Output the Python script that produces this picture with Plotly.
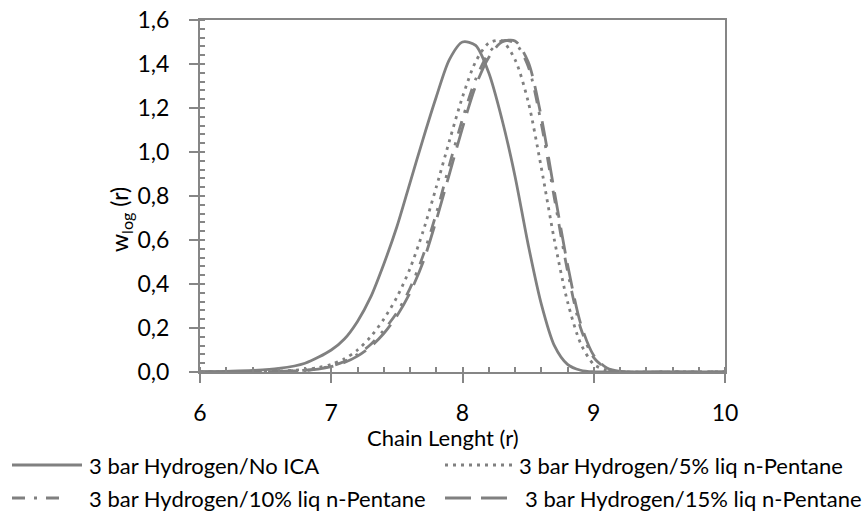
import plotly.graph_objects as go

# ---- data ----
x_noica = [6.0, 6.2, 6.4, 6.6, 6.8, 7.0, 7.1, 7.2, 7.3, 7.4, 7.5, 7.6, 7.7, 7.8, 7.9,
           8.0, 8.1, 8.2, 8.3, 8.4, 8.5, 8.6, 8.7, 8.8, 8.9, 9.0, 9.2, 9.6, 10.0]
y_noica = [0.0, 0.003, 0.007, 0.016, 0.04, 0.10, 0.15, 0.23, 0.34, 0.49, 0.66, 0.86, 1.06, 1.25, 1.42,
           1.50, 1.485, 1.36, 1.15, 0.89, 0.58, 0.31, 0.12, 0.035, 0.008, 0.001, 0.0, 0.0, 0.0]

x_5 = [6.0, 6.4, 6.6, 6.8, 6.9, 7.0, 7.1, 7.2, 7.3, 7.4, 7.5, 7.6, 7.7, 7.8, 7.9, 8.0,
       8.1, 8.2, 8.3, 8.4, 8.5, 8.6, 8.7, 8.8, 8.9, 9.0, 9.1, 9.2, 9.6, 10.0]
y_5 = [0.0, 0.001, 0.004, 0.012, 0.02, 0.035, 0.06, 0.10, 0.16, 0.24, 0.34, 0.47, 0.64, 0.84, 1.05, 1.25,
       1.41, 1.495, 1.505, 1.42, 1.23, 0.93, 0.60, 0.32, 0.13, 0.035, 0.008, 0.001, 0.0, 0.0]

x_10 = [6.0, 6.4, 6.6, 6.8, 6.9, 7.0, 7.1, 7.2, 7.3, 7.4, 7.5, 7.6, 7.7, 7.8, 7.9, 8.0,
        8.1, 8.2, 8.3, 8.4, 8.5, 8.6, 8.7, 8.8, 8.9, 9.0, 9.1, 9.2, 9.6, 10.0]
y_10 = [0.0, 0.001, 0.003, 0.008, 0.015, 0.027, 0.048, 0.08, 0.125, 0.19, 0.27, 0.38, 0.53, 0.72, 0.94, 1.15,
        1.33, 1.45, 1.505, 1.495, 1.39, 1.13, 0.79, 0.46, 0.20, 0.065, 0.015, 0.002, 0.0, 0.0]

x_15 = [6.0, 6.4, 6.6, 6.8, 6.9, 7.0, 7.1, 7.2, 7.3, 7.4, 7.5, 7.6, 7.7, 7.8, 7.9, 8.0,
        8.1, 8.2, 8.3, 8.4, 8.5, 8.6, 8.7, 8.8, 8.9, 9.0, 9.1, 9.2, 9.6, 10.0]
y_15 = [0.0, 0.001, 0.003, 0.007, 0.013, 0.024, 0.043, 0.072, 0.115, 0.175, 0.255, 0.36, 0.50, 0.69, 0.90, 1.11,
        1.30, 1.43, 1.50, 1.505, 1.41, 1.16, 0.82, 0.49, 0.22, 0.075, 0.018, 0.003, 0.0, 0.0]

series_names = [
    "3 bar Hydrogen/No ICA",
    "3 bar Hydrogen/5% liq n-Pentane",
    "3 bar Hydrogen/10% liq n-Pentane",
    "3 bar Hydrogen/15% liq n-Pentane",
]

x_ticks = [6, 7, 8, 9, 10]
y_ticks = [0.0, 0.2, 0.4, 0.6, 0.8, 1.0, 1.2, 1.4, 1.6]

x_title = "Chain Lenght (r)"
y_title = "w<sub>log</sub> (r)"

# ---- styles ----
GRAY = "#808080"
AXIS = "#868686"
FONT = "Lato"
FS = 22
LW = 2.8
dashes = ["solid", "3px,5px", "13px,9px,3px,9px", "26px,10px"]
series = [(x_noica, y_noica), (x_5, y_5), (x_10, y_10), (x_15, y_15)]

# the page body margin is removed (post_script), so the figure fills the window
W, H = 862, 511
PL, PR, PT, PB = 200, 725, 20, 372          # plot box in window pixels
ML, MR, MT, MB = PL, W - PR, PT, H - PB


def px_x(px):   # window px -> paper x
    return (px - PL) / (PR - PL)


def px_y(py):   # window px -> paper y
    return (PB - py) / (PB - PT)


fig = go.Figure()
for (xs, ys), name, dash in zip(series, series_names, dashes):
    fig.add_trace(go.Scatter(
        x=xs, y=ys, mode="lines", name=name, showlegend=False,
        line=dict(color=GRAY, width=LW, dash=dash, shape="spline", smoothing=0.8),
    ))

# legend layout (key sample start/end, text start, row centre) in window pixels
legend_slots = [(12, 82, 87, 465), (445, 513, 517, 465), (12, 68, 87, 498), (445, 513, 523, 498)]
shapes = []
annotations = []
for (s0, s1, tx, ty), name, dash in zip(legend_slots, series_names, dashes):
    shapes.append(dict(type="line", xref="paper", yref="paper",
                       x0=px_x(s0), x1=px_x(s1), y0=px_y(ty), y1=px_y(ty),
                       line=dict(color=GRAY, width=LW, dash=dash)))
    annotations.append(dict(text=name, xref="paper", yref="paper", x=px_x(tx), y=px_y(ty),
                            xanchor="left", yanchor="middle", showarrow=False,
                            font=dict(size=FS, family=FONT, color="black")))

annotations.append(dict(text=x_title, xref="paper", yref="paper", x=px_x(443), y=px_y(437),
                        xanchor="center", yanchor="middle", showarrow=False,
                        font=dict(size=FS, family=FONT, color="black")))
annotations.append(dict(text=y_title, xref="paper", yref="paper", x=px_x(121), y=px_y(220),
                        xanchor="center", yanchor="middle", showarrow=False, textangle=-90,
                        font=dict(size=FS + 1, family=FONT, color="black")))

fig.update_layout(
    width=W, height=H,
    margin=dict(l=ML, r=MR, t=MT, b=MB, autoexpand=False),
    plot_bgcolor="white", paper_bgcolor="white",
    separators=", ",
    font=dict(family=FONT, color="black"),
    showlegend=False,
    xaxis=dict(
        range=[6, 10], tickvals=x_ticks, ticktext=[str(v) for v in x_ticks],
        ticks="outside", ticklen=9, tickwidth=2, tickcolor=AXIS,
        showline=True, linecolor=AXIS, linewidth=2, mirror=True,
        showgrid=False, zeroline=False, ticklabeloverflow="allow",
        minor=dict(dtick=0.2, ticks="inside", ticklen=5, tickwidth=1.5, tickcolor=AXIS, showgrid=False),
        tickfont=dict(size=23, family=FONT, color="black"),
        ticklabelstandoff=10,
    ),
    yaxis=dict(
        range=[0, 1.6], tickvals=y_ticks, tickformat=".1f",
        ticks="outside", ticklen=9, tickwidth=2, tickcolor=AXIS,
        showline=True, linecolor=AXIS, linewidth=2, mirror=True,
        showgrid=False, zeroline=False, ticklabeloverflow="allow",
        minor=dict(dtick=0.04, ticks="inside", ticklen=5, tickwidth=1.5, tickcolor=AXIS, showgrid=False),
        tickfont=dict(size=23, family=FONT, color="black"),
        ticklabelstandoff=15,
    ),
    xaxis2=dict(
        overlaying="x", matches="x", anchor="y", range=[6, 10], tickvals=x_ticks,
        ticks="inside", ticklen=7, tickwidth=2, tickcolor=AXIS,
        showticklabels=False, showline=False, showgrid=False, zeroline=False,
    ),
    yaxis2=dict(
        overlaying="y", matches="y", anchor="x", side="left", range=[0, 1.6], tickvals=y_ticks,
        ticks="inside", ticklen=7, tickwidth=2, tickcolor=AXIS,
        showticklabels=False, showline=False, showgrid=False, zeroline=False,
    ),
    shapes=shapes,
    annotations=annotations,
)

fig.write_html(
    "out.html",
    config={"displayModeBar": False},
    post_script="document.body.style.margin='0px';document.body.style.overflow='hidden';",
)
